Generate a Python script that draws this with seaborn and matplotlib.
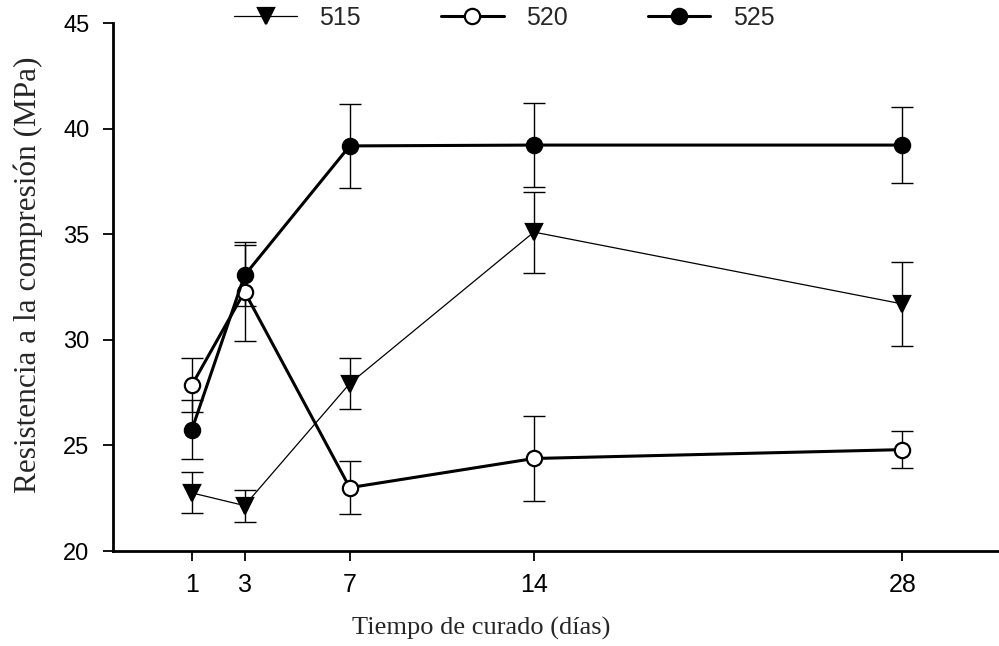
import matplotlib
matplotlib.use("Agg")
import matplotlib.pyplot as plt
import seaborn as sns
import pandas as pd
import numpy as np

# ---- data ----
days = [1, 3, 7, 14, 28]
labels = ["515", "520", "525"]
s515 = [22.75, 22.15, 27.93, 35.1, 31.7]
e515 = [0.97, 0.76, 1.2, 1.92, 2.0]
s520 = [27.86, 32.28, 23.0, 24.38, 24.8]
e520 = [1.3, 2.33, 1.24, 2.0, 0.88]
s525 = [25.75, 33.05, 39.18, 39.22, 39.22]
e525 = [1.38, 1.46, 1.99, 2.0, 1.8]
yticks = [20, 25, 30, 35, 40, 45]
xlabel = "Tiempo de curado (días)"
ylabel = "Resistencia a la compresión (MPa)"

sns.set_style("ticks")
plt.rcParams["font.family"] = ["Liberation Sans", "DejaVu Sans"]

sans = ["Liberation Sans", "DejaVu Sans"]
serif = ["Liberation Serif", "DejaVu Serif"]

fig = plt.figure(figsize=(9.99, 6.46), dpi=100)
ax = fig.add_axes([113 / 999, 1 - 551 / 646, (999 - 113) / 999, (551 - 23) / 646])

styles = [
    dict(vals=s515, errs=e515, marker="v", mfc="black", lw=0.9, ms=11),
    dict(vals=s520, errs=e520, marker="o", mfc="white", lw=2.2, ms=11),
    dict(vals=s525, errs=e525, marker="o", mfc="black", lw=2.2, ms=11),
]

for lab, st in zip(labels, styles):
    df = pd.DataFrame({"dias": days, "val": st["vals"]})
    ax.errorbar(days, st["vals"], yerr=st["errs"], fmt="none", ecolor="black",
                elinewidth=1.0, capsize=8, capthick=1.0, zorder=2)
    sns.lineplot(data=df, x="dias", y="val", ax=ax, color="black",
                 linewidth=st["lw"], marker=st["marker"], markersize=st["ms"],
                 markerfacecolor=st["mfc"], markeredgecolor="black",
                 markeredgewidth=1.6, label=lab, zorder=3)

handles, labs = ax.get_legend_handles_labels()
if ax.get_legend() is not None:
    ax.get_legend().remove()

ax.set_xlim(-2.0, 31.68)
ax.set_ylim(20, 45)
ax.set_xticks(days)
ax.set_xticklabels([str(d) for d in days], family=sans, fontsize=18)
ax.set_yticks(yticks)
ax.set_yticklabels([str(t) for t in yticks], family=sans, fontsize=17)
ax.tick_params(axis="x", length=7, width=1.3, pad=9, colors="black")
ax.tick_params(axis="y", length=7, width=1.3, pad=10, colors="black")

sns.despine(ax=ax)
for sp in ["left", "bottom"]:
    ax.spines[sp].set_linewidth(2.0)
    ax.spines[sp].set_color("black")

ax.set_xlabel(xlabel, family=serif, fontsize=19)
ax.set_ylabel(ylabel, family=serif, fontsize=22.5)
ax.xaxis.set_label_coords(0.415, -0.125)
ax.yaxis.set_label_coords(-0.079, 0.523)

leg = fig.legend(handles, labs, ncol=3, loc="center", bbox_to_anchor=(0.505, 0.972),
                 frameon=False, handlelength=2.5, handletextpad=0.9,
                 columnspacing=3.2, prop={"family": sans, "size": 18})

fig.savefig("out.png", dpi=100)
